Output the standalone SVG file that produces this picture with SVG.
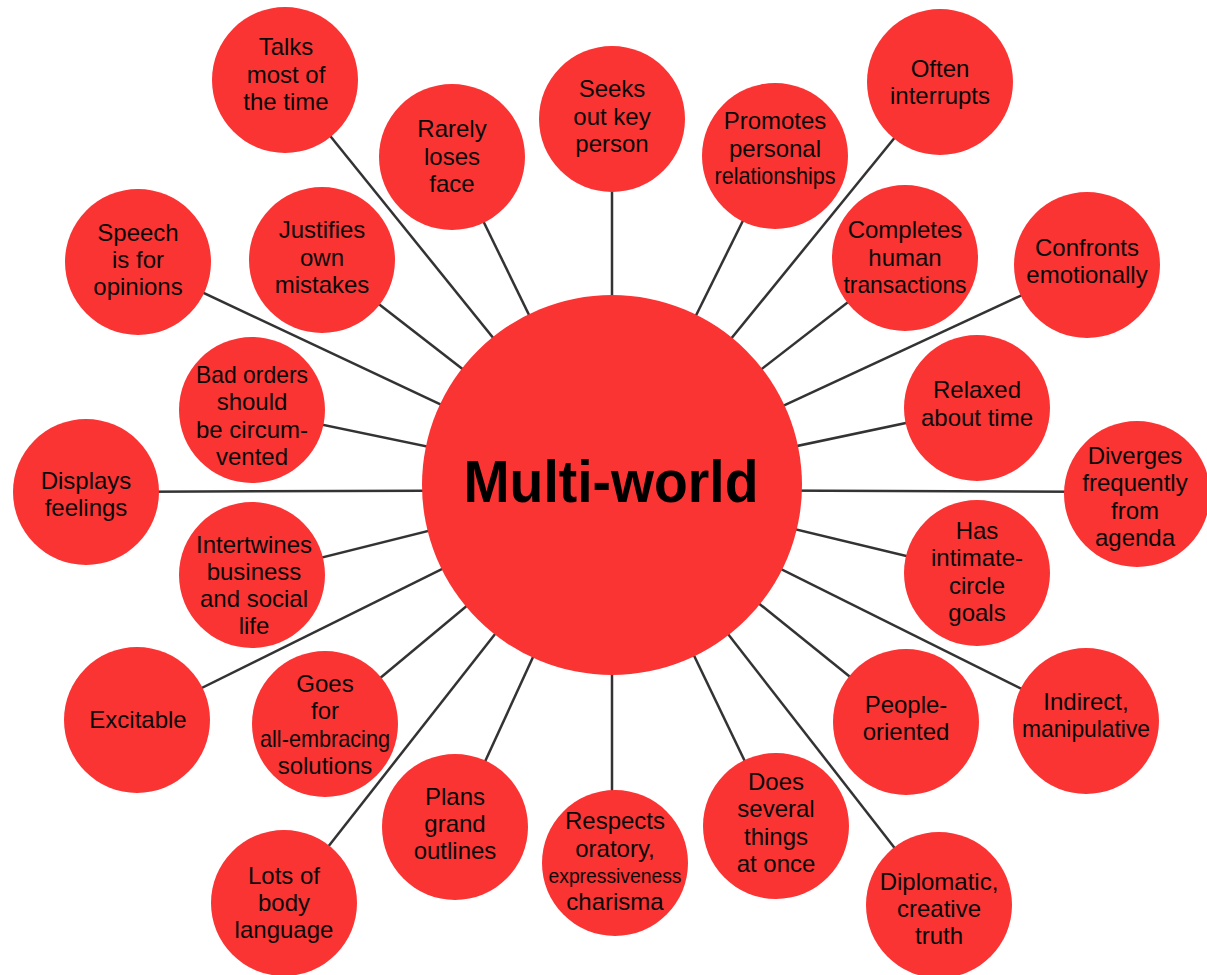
<svg xmlns="http://www.w3.org/2000/svg" width="1207" height="975" viewBox="0 0 1207 975">
<style>
.n{fill:#FA3333}
.t{font-family:"Liberation Sans",Arial,Helvetica,sans-serif;font-size:24px;fill:#0a0a0a;text-anchor:middle}
.c line{stroke:#333;stroke-width:2.5}
</style>
<rect width="1207" height="975" fill="#fff"/>
<g id="connectors" class="c">
<line x1="285" y1="80" x2="612" y2="485"/>
<line x1="452" y1="157" x2="612" y2="485"/>
<line x1="612" y1="119" x2="612" y2="485"/>
<line x1="775" y1="156" x2="612" y2="485"/>
<line x1="940" y1="82" x2="612" y2="485"/>
<line x1="138" y1="262" x2="612" y2="485"/>
<line x1="322" y1="260" x2="612" y2="485"/>
<line x1="905" y1="258" x2="612" y2="485"/>
<line x1="1087" y1="265" x2="612" y2="485"/>
<line x1="252" y1="410" x2="612" y2="485"/>
<line x1="977" y1="408" x2="612" y2="485"/>
<line x1="86" y1="492" x2="612" y2="490"/>
<line x1="1137" y1="492" x2="612" y2="490"/>
<line x1="252" y1="575" x2="612" y2="485"/>
<line x1="977" y1="573" x2="612" y2="485"/>
<line x1="137" y1="720" x2="612" y2="485"/>
<line x1="325" y1="724" x2="612" y2="485"/>
<line x1="906" y1="722" x2="612" y2="485"/>
<line x1="1086" y1="721" x2="612" y2="485"/>
<line x1="455" y1="827" x2="612" y2="485"/>
<line x1="612" y1="863" x2="612" y2="485"/>
<line x1="776" y1="826" x2="612" y2="485"/>
<line x1="284" y1="903" x2="612" y2="485"/>
<line x1="939" y1="905" x2="612" y2="485"/>
</g>
<g id="center"><circle class="n" cx="612" cy="485" r="190"/><text x="611" y="502" font-family="Liberation Sans,Arial,sans-serif" font-size="60" font-weight="bold" fill="#000" text-anchor="middle" textLength="295" lengthAdjust="spacingAndGlyphs">Multi-world</text></g>
<g id="talks"><circle class="n" cx="285" cy="80" r="73"/><text class="t" x="286" y="55">Talks<tspan x="286" dy="27.5">most of</tspan><tspan x="286" dy="27.5">the time</tspan></text></g>
<g id="rarely"><circle class="n" cx="452" cy="157" r="73"/><text class="t" x="452" y="137">Rarely<tspan x="452" dy="27.5">loses</tspan><tspan x="452" dy="27.5">face</tspan></text></g>
<g id="seeks"><circle class="n" cx="612" cy="119" r="73"/><text class="t" x="612" y="97">Seeks<tspan x="612" dy="27.5">out key</tspan><tspan x="612" dy="27.5">person</tspan></text></g>
<g id="promotes"><circle class="n" cx="775" cy="156" r="73"/><text class="t" x="775" y="129">Promotes<tspan x="775" dy="27.5">personal</tspan><tspan x="775" dy="27.5" textLength="121" lengthAdjust="spacingAndGlyphs">relationships</tspan></text></g>
<g id="often"><circle class="n" cx="940" cy="82" r="73"/><text class="t" x="940" y="77">Often<tspan x="940" dy="27">interrupts</tspan></text></g>
<g id="speech"><circle class="n" cx="138" cy="262" r="73"/><text class="t" x="138" y="241">Speech<tspan x="138" dy="27">is for</tspan><tspan x="138" dy="27">opinions</tspan></text></g>
<g id="justifies"><circle class="n" cx="322" cy="260" r="73"/><text class="t" x="322" y="238">Justifies<tspan x="322" dy="27.5">own</tspan><tspan x="322" dy="27.5">mistakes</tspan></text></g>
<g id="completes"><circle class="n" cx="905" cy="258" r="73"/><text class="t" x="905" y="238">Completes<tspan x="905" dy="27.5">human</tspan><tspan x="905" dy="27.5" textLength="123" lengthAdjust="spacingAndGlyphs">transactions</tspan></text></g>
<g id="confronts"><circle class="n" cx="1087" cy="265" r="73"/><text class="t" x="1087" y="256">Confronts<tspan x="1087" dy="27">emotionally</tspan></text></g>
<g id="badorders"><circle class="n" cx="252" cy="410" r="73"/><text class="t" x="252" y="383"><tspan textLength="112" lengthAdjust="spacingAndGlyphs">Bad orders</tspan><tspan x="252" dy="27.3">should</tspan><tspan x="252" dy="27.3">be circum-</tspan><tspan x="252" dy="27.3">vented</tspan></text></g>
<g id="relaxed"><circle class="n" cx="977" cy="408" r="73"/><text class="t" x="977" y="398">Relaxed<tspan x="977" dy="28">about time</tspan></text></g>
<g id="displays"><circle class="n" cx="86" cy="492" r="73"/><text class="t" x="86" y="489">Displays<tspan x="86" dy="27">feelings</tspan></text></g>
<g id="diverges"><circle class="n" cx="1137" cy="494" r="73"/><text class="t" x="1135" y="464">Diverges<tspan x="1135" dy="27.3">frequently</tspan><tspan x="1135" dy="27.3">from</tspan><tspan x="1135" dy="27.3">agenda</tspan></text></g>
<g id="intertwines"><circle class="n" cx="252" cy="575" r="73"/><text class="t" x="254" y="553">Intertwines<tspan x="254" dy="27">business</tspan><tspan x="254" dy="27">and social</tspan><tspan x="254" dy="27">life</tspan></text></g>
<g id="has"><circle class="n" cx="977" cy="573" r="73"/><text class="t" x="977" y="539">Has<tspan x="977" dy="27.3">intimate-</tspan><tspan x="977" dy="27.3">circle</tspan><tspan x="977" dy="27.3">goals</tspan></text></g>
<g id="excitable"><circle class="n" cx="137" cy="720" r="73"/><text class="t" x="138" y="728">Excitable</text></g>
<g id="goes"><circle class="n" cx="325" cy="724" r="73"/><text class="t" x="325" y="692">Goes<tspan x="325" dy="27">for</tspan><tspan x="325" dy="27.5" textLength="130" lengthAdjust="spacingAndGlyphs">all-embracing</tspan><tspan x="325" dy="27">solutions</tspan></text></g>
<g id="people"><circle class="n" cx="906" cy="722" r="73"/><text class="t" x="906" y="713">People-<tspan x="906" dy="27">oriented</tspan></text></g>
<g id="indirect"><circle class="n" cx="1086" cy="721" r="73"/><text class="t" x="1086" y="710">Indirect,<tspan x="1086" dy="27" textLength="128" lengthAdjust="spacingAndGlyphs">manipulative</tspan></text></g>
<g id="plans"><circle class="n" cx="455" cy="827" r="73"/><text class="t" x="455" y="805">Plans<tspan x="455" dy="27">grand</tspan><tspan x="455" dy="27">outlines</tspan></text></g>
<g id="respects"><circle class="n" cx="615" cy="863" r="73"/><text class="t" x="615" y="829">Respects<tspan x="615" dy="28">oratory,</tspan><tspan x="615" dy="26" font-size="20" textLength="133" lengthAdjust="spacingAndGlyphs">expressiveness</tspan><tspan x="615" dy="27">charisma</tspan></text></g>
<g id="does"><circle class="n" cx="776" cy="826" r="73"/><text class="t" x="776" y="790">Does<tspan x="776" dy="27.3">several</tspan><tspan x="776" dy="27.3">things</tspan><tspan x="776" dy="27.3">at once</tspan></text></g>
<g id="lots"><circle class="n" cx="284" cy="903" r="73"/><text class="t" x="284" y="884">Lots of<tspan x="284" dy="27">body</tspan><tspan x="284" dy="27">language</tspan></text></g>
<g id="diplomatic"><circle class="n" cx="939" cy="905" r="73"/><text class="t" x="939" y="890">Diplomatic,<tspan x="939" dy="27">creative</tspan><tspan x="939" dy="27">truth</tspan></text></g>
</svg>
